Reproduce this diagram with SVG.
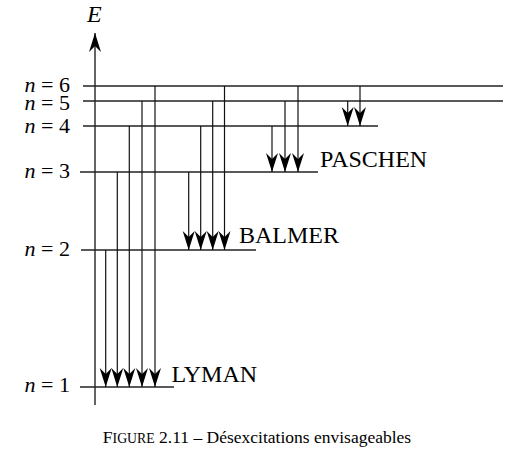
<svg xmlns="http://www.w3.org/2000/svg" width="514" height="465" viewBox="0 0 514 465">
<style>
text{font-family:"Liberation Serif","Times New Roman",serif;font-size:24px;fill:#000}
.lab{font-size:22px}
.cap{font-size:17.5px}
.sc{font-size:13.8px}
.it{font-style:italic}
.lvl line{stroke:#222;stroke-width:1.4}
.con line{stroke:#111;stroke-width:1.2;marker-end:url(#ah)}
</style>
<defs>
<marker id="ah" markerUnits="userSpaceOnUse" orient="auto" viewBox="-20 -7 21 14" refX="0" refY="0" markerWidth="21" markerHeight="14">
<path d="M0,0 L-19,-6 L-13,0 L-19,6 Z" fill="#000"/>
</marker>
</defs>
<rect width="514" height="465" fill="#fff"/>
<g id="axis">
<line x1="95" y1="405" x2="95" y2="33" stroke="#111" stroke-width="1.3" marker-end="url(#ah)"/>
<text x="87" y="22" class="it">E</text>
</g>
<g id="levels" class="lvl">
<g id="n6"><line x1="83" y1="86" x2="503" y2="86"/><text class="lab" x="70" y="92" text-anchor="end"><tspan class="it">n</tspan> = 6</text></g>
<g id="n5"><line x1="83" y1="101" x2="503" y2="101"/><text class="lab" x="70" y="110" text-anchor="end"><tspan class="it">n</tspan> = 5</text></g>
<g id="n4"><line x1="83" y1="126" x2="378" y2="126"/><text class="lab" x="70" y="133" text-anchor="end"><tspan class="it">n</tspan> = 4</text></g>
<g id="n3"><line x1="80" y1="172" x2="318" y2="172"/><text class="lab" x="70" y="178" text-anchor="end"><tspan class="it">n</tspan> = 3</text></g>
<g id="n2"><line x1="81" y1="250" x2="256" y2="250"/><text class="lab" x="70" y="256" text-anchor="end"><tspan class="it">n</tspan> = 2</text></g>
<g id="n1"><line x1="80" y1="387" x2="174" y2="387"/><text class="lab" x="70" y="392" text-anchor="end"><tspan class="it">n</tspan> = 1</text></g>
</g>
<g id="connectors" class="con">
<line x1="105.7" y1="250" x2="105.7" y2="387"/>
<line x1="117.3" y1="172" x2="117.3" y2="387"/>
<line x1="129.3" y1="126" x2="129.3" y2="387"/>
<line x1="142" y1="101" x2="142" y2="387"/>
<line x1="155" y1="86" x2="155" y2="387"/>
<line x1="188.7" y1="172" x2="188.7" y2="250"/>
<line x1="200.7" y1="126" x2="200.7" y2="250"/>
<line x1="212.7" y1="101" x2="212.7" y2="250"/>
<line x1="224.5" y1="86" x2="224.5" y2="250"/>
<line x1="272" y1="126" x2="272" y2="172"/>
<line x1="285" y1="101" x2="285" y2="172"/>
<line x1="298" y1="86" x2="298" y2="172"/>
<line x1="347.7" y1="101" x2="347.7" y2="126"/>
<line x1="360" y1="86" x2="360" y2="126"/>
</g>
<g id="series">
<text x="171.5" y="382">LYMAN</text>
<text x="239" y="243">BALMER</text>
<text x="320" y="167">PASCHEN</text>
</g>
<g id="caption">
<text class="cap" x="257" y="443" text-anchor="middle">F<tspan class="sc">IGURE</tspan> 2.11 – Désexcitations envisageables</text>
</g>
</svg>
